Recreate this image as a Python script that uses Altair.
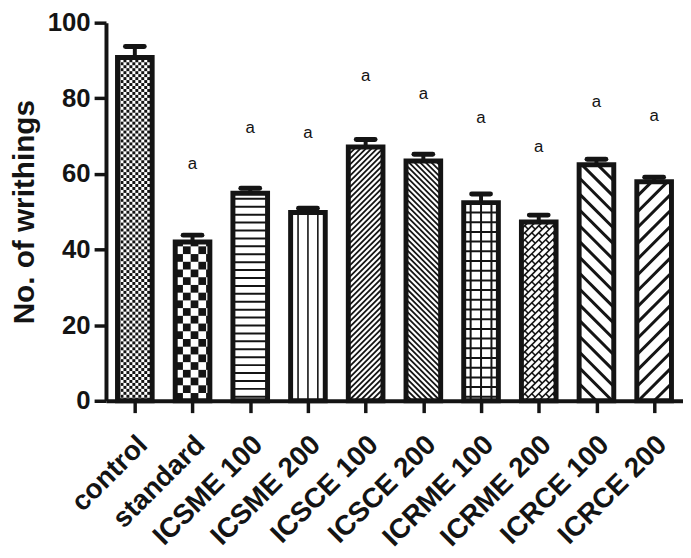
import json
import math
import altair as alt
import pandas as pd

# ---------------- data ----------------
groups = ["control", "standard", "ICSME 100", "ICSME 200", "ICSCE 100",
          "ICSCE 200", "ICRME 100", "ICRME 200", "ICRCE 100", "ICRCE 200"]
means = [90.8, 42.0, 54.9, 49.8, 67.1, 63.4, 52.4, 47.3, 62.4, 57.9]
sems = [2.9, 1.8, 1.3, 1.1, 2.0, 1.8, 2.3, 1.8, 1.5, 1.2]
sig_marks = ["", "a", "a", "a", "a", "a", "a", "a", "a", "a"]
sig_heights = [0, 62.5, 72.0, 70.8, 85.8, 81.0, 74.7, 67.2, 79.0, 75.2]
# fill pattern of each bar
patterns = ["fine_checker", "checker", "horizontal", "vertical", "fine_slash",
            "fine_backslash", "grid", "bricks", "coarse_backslash", "coarse_slash"]

# ---------------- layout ----------------
W, H = 583, 382
PXX = W / len(groups)     # pixels per x unit
PXY = H / 100.0           # pixels per y unit
HALF_PX = 17.5            # half bar width in pixels
HALF = HALF_PX / PXX
CAP = 9.5 / PXX
INK = "#141414"


def clip(x0, y0, x1, y1, xmin, xmax, ymin, ymax):
    dx, dy = x1 - x0, y1 - y0
    t0, t1 = 0.0, 1.0
    for p, q in ((-dx, x0 - xmin), (dx, xmax - x0), (-dy, y0 - ymin), (dy, ymax - y0)):
        if p == 0:
            if q < 0:
                return None
        else:
            r = q / p
            if p < 0:
                t0 = max(t0, r)
            else:
                t1 = min(t1, r)
    if t0 >= t1:
        return None
    return (x0 + t0 * dx, y0 + t0 * dy, x0 + t1 * dx, y0 + t1 * dy)


segs = []
cells = []


def add_seg(i, hpx, a, b, sw):
    c = clip(a[0], a[1], b[0], b[1], -HALF_PX, HALF_PX, 0, hpx)
    if c:
        segs.append({"x": i + c[0] / PXX, "y": c[1] / PXY,
                     "x2": i + c[2] / PXX, "y2": c[3] / PXY, "sw": sw})


def hatch(i, hpx, d, spacing, sw, phase=0.0):
    n = (d[1], -d[0])
    corners = [(-HALF_PX, 0), (HALF_PX, 0), (-HALF_PX, hpx), (HALF_PX, hpx)]
    cs = [n[0] * x + n[1] * y for x, y in corners]
    k0 = math.floor((min(cs) - phase) / spacing) - 1
    k1 = math.ceil((max(cs) - phase) / spacing) + 1
    T = 2000
    for k in range(k0, k1 + 1):
        c = k * spacing + phase
        px, py = c * n[0], c * n[1]
        add_seg(i, hpx, (px - T * d[0], py - T * d[1]), (px + T * d[0], py + T * d[1]), sw)


def checker(i, hpx, size):
    ncol = math.ceil(2 * HALF_PX / size)
    nrow = math.ceil(hpx / size)
    for a in range(ncol):
        for b in range(nrow):
            if (a + b) % 2 == 0:
                u0 = -HALF_PX + a * size
                u1 = min(u0 + size, HALF_PX)
                h0 = b * size
                h1 = min(h0 + size, hpx)
                cells.append({"x": i + u0 / PXX, "x2": i + u1 / PXX,
                              "y": h0 / PXY, "y2": h1 / PXY})


def bricks(i, hpx, spacing, length, sw):
    r2 = math.sqrt(0.5)
    d = (r2, r2)
    n = (d[1], -d[0])
    hatch(i, hpx, d, spacing, sw)
    corners = [(-HALF_PX, 0), (HALF_PX, 0), (-HALF_PX, hpx), (HALF_PX, hpx)]
    cs = [n[0] * x + n[1] * y for x, y in corners]
    ts = [d[0] * x + d[1] * y for x, y in corners]
    k0 = math.floor(min(cs) / spacing) - 1
    k1 = math.ceil(max(cs) / spacing) + 1
    j0 = math.floor(min(ts) / length) - 1
    j1 = math.ceil(max(ts) / length) + 1
    for k in range(k0, k1 + 1):
        c0, c1 = k * spacing, (k + 1) * spacing
        for j in range(j0, j1 + 1):
            t = j * length + (k % 2) * length / 2
            a = (c0 * n[0] + t * d[0], c0 * n[1] + t * d[1])
            b = (c1 * n[0] + t * d[0], c1 * n[1] + t * d[1])
            add_seg(i, hpx, a, b, sw)


r2 = math.sqrt(0.5)
for i, (v, p) in enumerate(zip(means, patterns)):
    hpx = v * PXY
    if p == "fine_checker":
        checker(i, hpx, 3.0)
    elif p == "checker":
        checker(i, hpx, 7.8)
    elif p == "horizontal":
        hatch(i, hpx, (1, 0), 8.0, 2.0, phase=-4.0)
    elif p == "vertical":
        hatch(i, hpx, (0, 1), 10.0, 1.6)
    elif p == "fine_slash":
        hatch(i, hpx, (r2, r2), 4.0, 1.8)
    elif p == "fine_backslash":
        hatch(i, hpx, (r2, -r2), 4.0, 1.8)
    elif p == "grid":
        hatch(i, hpx, (1, 0), 9.8, 2.0, phase=-4.0)
        hatch(i, hpx, (0, 1), 10.5, 2.0)
    elif p == "bricks":
        bricks(i, hpx, 5.0, 10.0, 1.6)
    elif p == "coarse_backslash":
        hatch(i, hpx, (r2, -r2), 11.3, 3.0)
    elif p == "coarse_slash":
        hatch(i, hpx, (r2, r2), 11.3, 3.0)

bars = pd.DataFrame({
    "group": groups, "i": list(range(len(groups))), "mean": means, "sem": sems,
})
bars["x0"] = bars["i"] - HALF
bars["x1"] = bars["i"] + HALF
bars["top"] = bars["mean"] + bars["sem"]
bars["c0"] = bars["i"] - CAP
bars["c1"] = bars["i"] + CAP
bars["zero"] = 0.0

sig = pd.DataFrame({"i": list(range(len(groups))), "label": sig_marks, "h": sig_heights})
sig = sig[sig["label"] != ""]

seg_df = pd.DataFrame(segs)
cell_df = pd.DataFrame(cells)

label_expr = json.dumps(groups) + "[datum.value]"

xscale = alt.Scale(domain=[-0.5, len(groups) - 0.5], nice=False, zero=False)
yscale = alt.Scale(domain=[0, 100], nice=False)

xaxis = alt.Axis(values=list(range(len(groups))), labelExpr=label_expr,
                 labelAngle=-45, labelAlign="right", labelBaseline="middle",
                 labelFontSize=28, labelFontWeight="bold", labelFont="Liberation Sans",
                 labelColor=INK, labelPadding=28, labelOffset=8, labelOverlap=False,
                 tickSize=12, tickWidth=3.5, tickColor=INK,
                 domainWidth=4, domainColor=INK, grid=False, zindex=1)
yaxis = alt.Axis(values=[0, 20, 40, 60, 80, 100], labelFontSize=26,
                 labelFontWeight="bold", labelFont="Liberation Sans", labelColor=INK,
                 labelPadding=4, tickSize=12, tickWidth=3.5, tickColor=INK,
                 domainWidth=4, domainColor=INK, grid=False, zindex=1,
                 title="No. of writhings", titleFontSize=30, titleFontWeight="bold",
                 titleFont="Liberation Sans", titleColor=INK, titlePadding=8)

base_fill = alt.Chart(bars).mark_rect(fill="white", stroke=None).encode(
    x=alt.X("x0:Q", scale=xscale, axis=xaxis, title=None),
    x2="x1:Q",
    y=alt.Y("zero:Q", scale=yscale, axis=yaxis),
    y2="mean:Q",
)

cell_layer = alt.Chart(cell_df).mark_rect(fill=INK, strokeWidth=0).encode(
    x="x:Q", x2="x2:Q", y="y:Q", y2="y2:Q",
)

seg_layer = alt.Chart(seg_df).mark_rule(color=INK, strokeCap="butt").encode(
    x="x:Q", x2="x2:Q", y="y:Q", y2="y2:Q",
    strokeWidth=alt.StrokeWidth("sw:Q", scale=None, legend=None),
)

outline = alt.Chart(bars).mark_rect(fillOpacity=0, stroke=INK, strokeWidth=5).encode(
    x="x0:Q", x2="x1:Q", y="zero:Q", y2="mean:Q",
)

stem = alt.Chart(bars).mark_rule(color=INK, strokeWidth=4).encode(
    x="i:Q", y="mean:Q", y2="top:Q",
)

cap = alt.Chart(bars).mark_rule(color=INK, strokeWidth=5, strokeCap="round").encode(
    x="c0:Q", x2="c1:Q", y="top:Q",
)

sig_text = alt.Chart(sig).mark_text(fontSize=17, font="Liberation Sans", color=INK,
                                    baseline="middle", align="center").encode(
    x="i:Q", y="h:Q", text="label:N",
)

chart = alt.layer(base_fill, cell_layer, seg_layer, outline, stem, cap, sig_text).properties(
    width=W, height=H,
    autosize=alt.AutoSizeParams(type="none"),
    padding={"left": 99, "top": 12, "right": 0, "bottom": 150},
).configure_view(stroke=None)

chart.save("out.html", embed_options={"renderer": "svg", "actions": False})
